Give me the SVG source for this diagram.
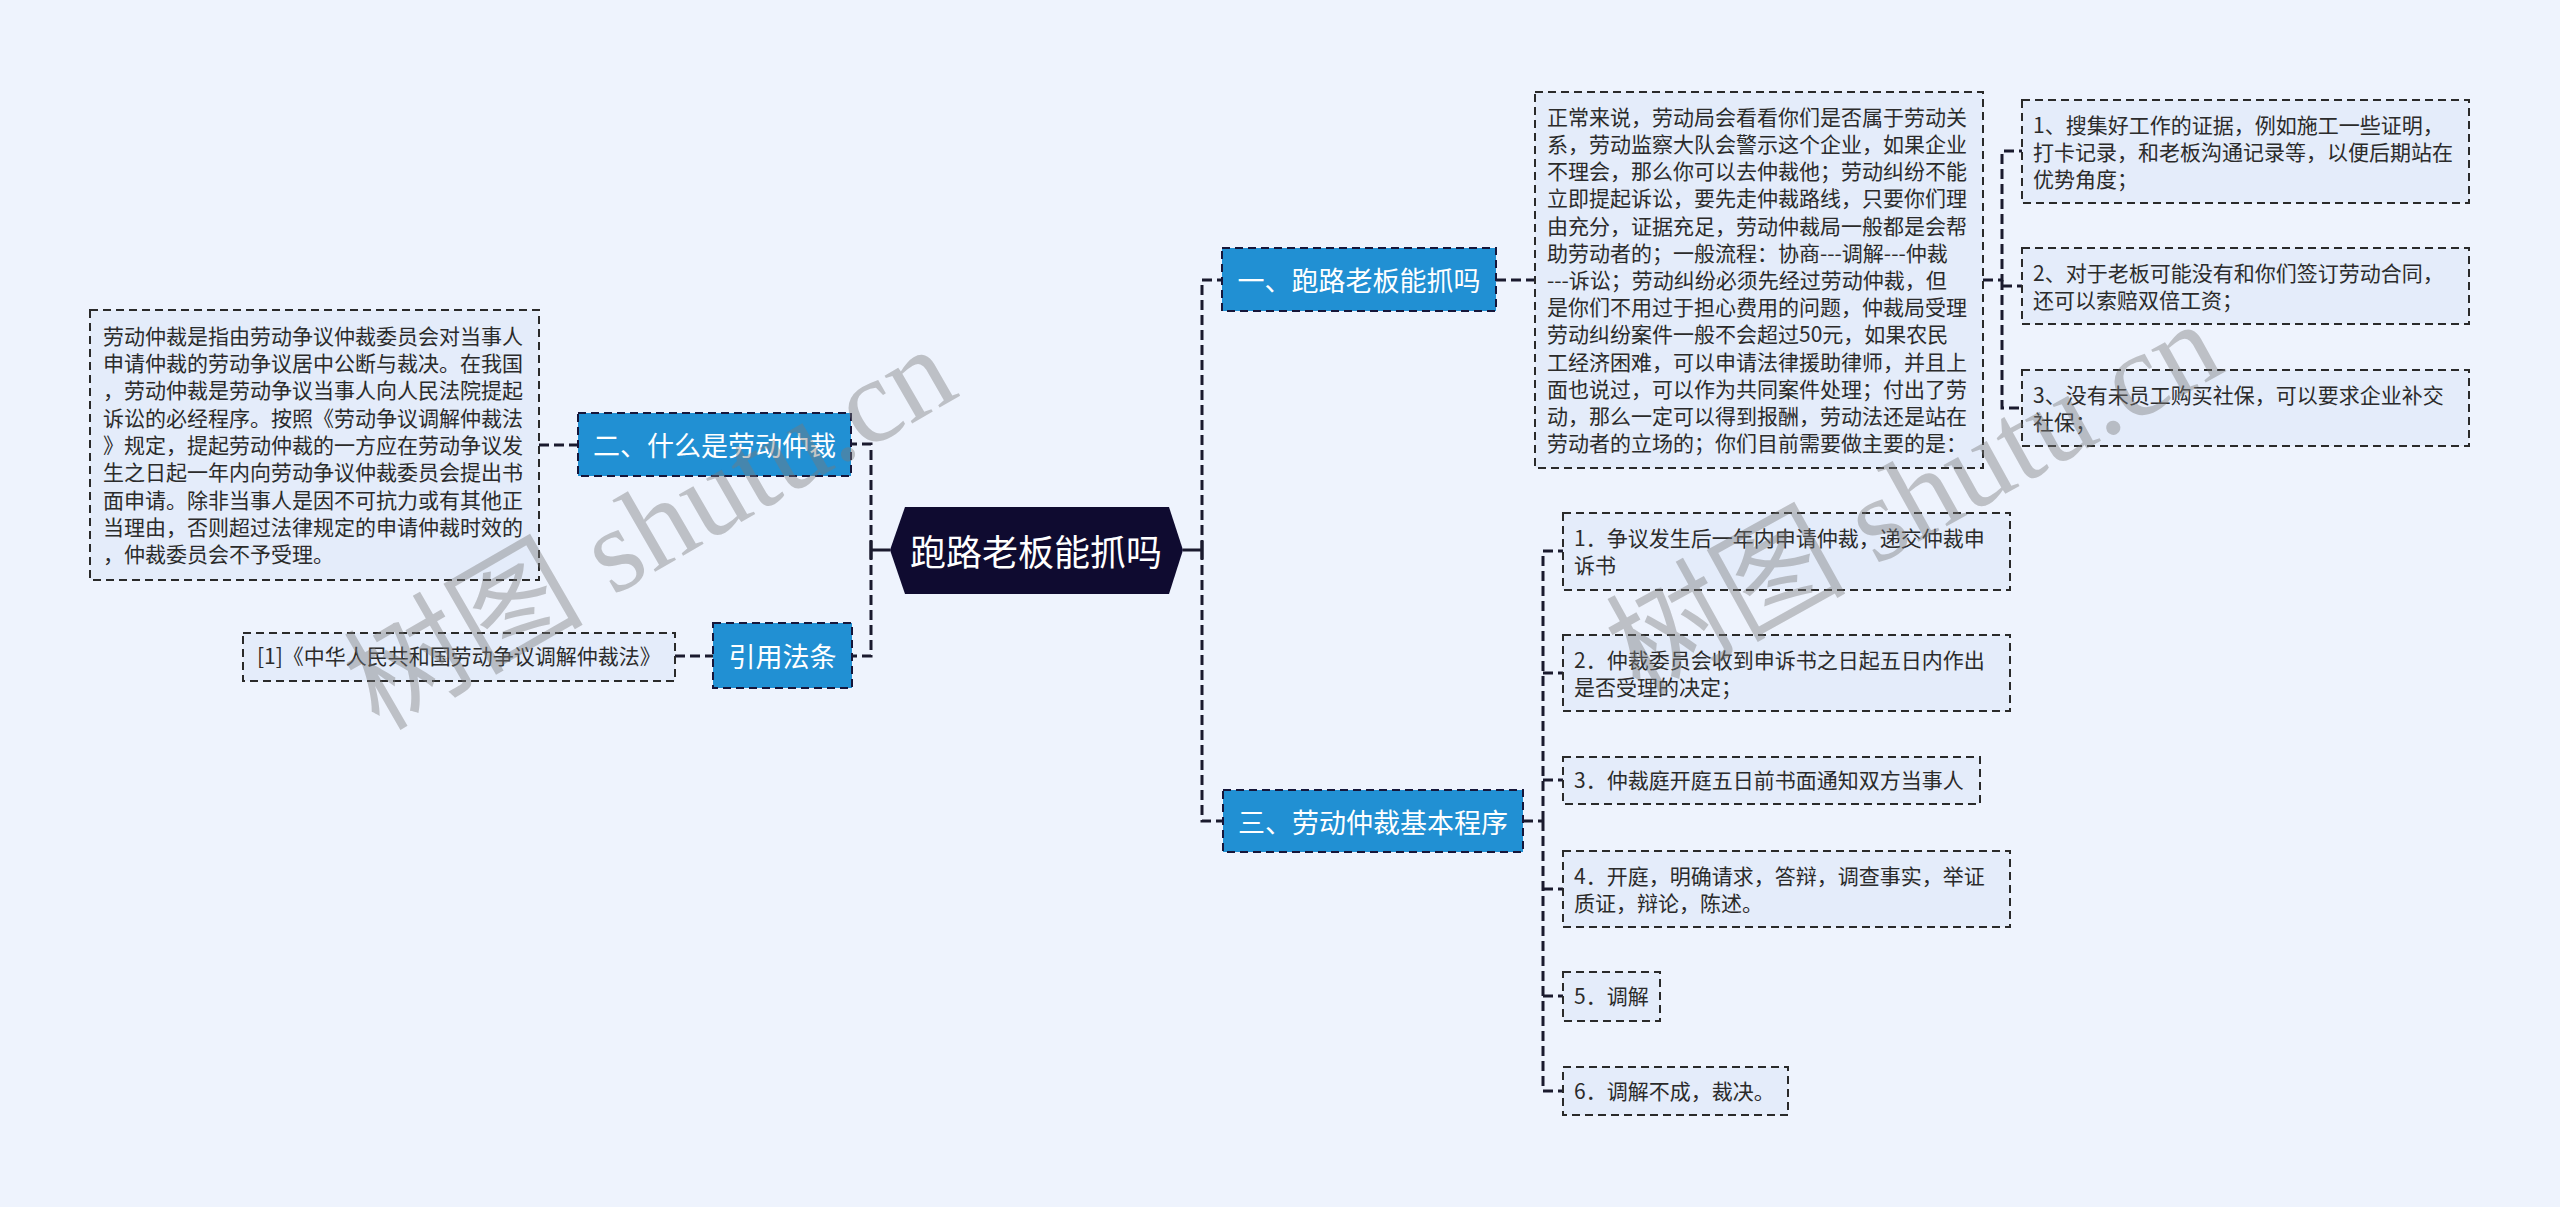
<svg xmlns="http://www.w3.org/2000/svg" width="2560" height="1207" viewBox="0 0 2560 1207">
<style>
.bg{fill:#eef3fd}
.tb{fill:#e4ecfa;stroke:#2a2a2a;stroke-width:2;stroke-dasharray:8 5}
.bb{fill:#2190d3;stroke:#16163a;stroke-width:2;stroke-dasharray:8 5}
.t{font-family:'Noto Sans CJK SC','Noto Sans',sans-serif;font-size:21px;fill:#2b2b2b}
.bt{font-family:'Noto Sans CJK SC','Noto Sans',sans-serif;font-size:27px;fill:#ffffff;text-anchor:middle;dominant-baseline:central}
.rt{font-family:'Noto Sans CJK SC','Noto Sans',sans-serif;font-size:36px;fill:#ffffff;text-anchor:middle;dominant-baseline:central}
.c{fill:none;stroke:#1a1a2e;stroke-width:3;stroke-dasharray:10 5}
.s{fill:none;stroke:#1a1a2e;stroke-width:3}
.wm{font-family:'Liberation Serif','Noto Sans CJK SC',serif;font-size:120px;fill:#7a7a7a;fill-opacity:0.42;text-anchor:middle;dominant-baseline:central}
</style>
<rect class="bg" x="0" y="0" width="2560" height="1207"/>

<g id="connectors">
  <path class="s" d="M890,550 H871 M871,541 V559"/>
  <path class="c" d="M871,550 V444 H851"/>
  <path class="c" d="M871,550 V656 H852"/>
  <path class="s" d="M1183,550 H1202 M1202,541 V559"/>
  <path class="c" d="M1202,550 V280 H1222"/>
  <path class="c" d="M1202,550 V821 H1223"/>
  <path class="c" d="M539,445 H578"/>
  <path class="c" d="M675,656 H713"/>
  <path class="c" d="M1496,280 H1535"/>
  <path class="c" d="M1983,280 H2002 V151 H2022"/>
  <path class="c" d="M2002,280 V408 H2022"/>
  <path class="c" d="M2002,286 H2022"/>
  <path class="c" d="M1523,821 H1543"/>
  <path class="c" d="M1543,821 V551 H1563"/>
  <path class="c" d="M1543,821 V1091 H1563"/>
  <path class="c" d="M1543,673 H1563 M1543,780 H1563 M1543,889 H1563 M1543,996 H1563"/>
</g>

<g id="root">
  <polygon points="890,550 905,507 1169,507 1183,550 1169,594 905,594" fill="#0f0b30"/>
  <text class="rt" x="1036" y="550">跑路老板能抓吗</text>
</g>

<g id="n1">
  <rect class="bb" x="1222" y="248" width="274" height="63"/>
  <text class="bt" x="1359" y="279.5">一、跑路老板能抓吗</text>
</g>
<g id="n1-text">
  <rect class="tb" x="1535" y="92" width="448" height="376"/>
  <text class="t" x="1547">
    <tspan x="1547" y="124.8">正常来说，劳动局会看看你们是否属于劳动关</tspan>
    <tspan x="1547" y="152">系，劳动监察大队会警示这个企业，如果企业</tspan>
    <tspan x="1547" y="179.2">不理会，那么你可以去仲裁他；劳动纠纷不能</tspan>
    <tspan x="1547" y="206.4">立即提起诉讼，要先走仲裁路线，只要你们理</tspan>
    <tspan x="1547" y="233.6">由充分，证据充足，劳动仲裁局一般都是会帮</tspan>
    <tspan x="1547" y="260.8">助劳动者的；一般流程：协商---调解---仲裁</tspan>
    <tspan x="1547" y="288">---诉讼；劳动纠纷必须先经过劳动仲裁，但</tspan>
    <tspan x="1547" y="315.2">是你们不用过于担心费用的问题，仲裁局受理</tspan>
    <tspan x="1547" y="342.4">劳动纠纷案件一般不会超过50元，如果农民</tspan>
    <tspan x="1547" y="369.6">工经济困难，可以申请法律援助律师，并且上</tspan>
    <tspan x="1547" y="396.8">面也说过，可以作为共同案件处理；付出了劳</tspan>
    <tspan x="1547" y="424">动，那么一定可以得到报酬，劳动法还是站在</tspan>
    <tspan x="1547" y="451.2">劳动者的立场的；你们目前需要做主要的是：</tspan>
  </text>
</g>
<g id="n1-1">
  <rect class="tb" x="2022" y="100" width="447" height="103"/>
  <text class="t"><tspan x="2033" y="132.5">1、搜集好工作的证据，例如施工一些证明，</tspan><tspan x="2033" y="159.5">打卡记录，和老板沟通记录等，以便后期站在</tspan><tspan x="2033" y="186.5">优势角度；</tspan></text>
</g>
<g id="n1-2">
  <rect class="tb" x="2022" y="248" width="447" height="76"/>
  <text class="t"><tspan x="2033" y="280.5">2、对于老板可能没有和你们签订劳动合同，</tspan><tspan x="2033" y="307.5">还可以索赔双倍工资；</tspan></text>
</g>
<g id="n1-3">
  <rect class="tb" x="2022" y="370" width="447" height="76"/>
  <text class="t"><tspan x="2033" y="402.5">3、没有未员工购买社保，可以要求企业补交</tspan><tspan x="2033" y="429.5">社保；</tspan></text>
</g>

<g id="n3">
  <rect class="bb" x="1223" y="790" width="300" height="62"/>
  <text class="bt" x="1373" y="821">三、劳动仲裁基本程序</text>
</g>
<g id="n3-1">
  <rect class="tb" x="1563" y="513" width="447" height="77"/>
  <text class="t"><tspan x="1574" y="546">1．争议发生后一年内申请仲裁，递交仲裁申</tspan><tspan x="1574" y="573">诉书</tspan></text>
</g>
<g id="n3-2">
  <rect class="tb" x="1563" y="635" width="447" height="76"/>
  <text class="t"><tspan x="1574" y="667.5">2．仲裁委员会收到申诉书之日起五日内作出</tspan><tspan x="1574" y="694.5">是否受理的决定；</tspan></text>
</g>
<g id="n3-3">
  <rect class="tb" x="1563" y="757" width="417" height="47"/>
  <text class="t" x="1574" y="788">3．仲裁庭开庭五日前书面通知双方当事人</text>
</g>
<g id="n3-4">
  <rect class="tb" x="1563" y="851" width="447" height="76"/>
  <text class="t"><tspan x="1574" y="883.5">4．开庭，明确请求，答辩，调查事实，举证</tspan><tspan x="1574" y="910.5">质证，辩论，陈述。</tspan></text>
</g>
<g id="n3-5">
  <rect class="tb" x="1563" y="972" width="97" height="49"/>
  <text class="t" x="1574" y="1004">5．调解</text>
</g>
<g id="n3-6">
  <rect class="tb" x="1563" y="1067" width="225" height="48"/>
  <text class="t" x="1574" y="1099">6．调解不成，裁决。</text>
</g>

<g id="n2">
  <rect class="bb" x="578" y="413" width="273" height="63"/>
  <text class="bt" x="714.5" y="444.5">二、什么是劳动仲裁</text>
</g>
<g id="n2-text">
  <rect class="tb" x="90" y="310" width="449" height="270"/>
  <text class="t">
    <tspan x="103" y="343.8">劳动仲裁是指由劳动争议仲裁委员会对当事人</tspan>
    <tspan x="103" y="371.1">申请仲裁的劳动争议居中公断与裁决。在我国</tspan>
    <tspan x="103" y="398.4">，劳动仲裁是劳动争议当事人向人民法院提起</tspan>
    <tspan x="103" y="425.7">诉讼的必经程序。按照《劳动争议调解仲裁法</tspan>
    <tspan x="103" y="453">》规定，提起劳动仲裁的一方应在劳动争议发</tspan>
    <tspan x="103" y="480.3">生之日起一年内向劳动争议仲裁委员会提出书</tspan>
    <tspan x="103" y="507.6">面申请。除非当事人是因不可抗力或有其他正</tspan>
    <tspan x="103" y="534.9">当理由，否则超过法律规定的申请仲裁时效的</tspan>
    <tspan x="103" y="562.2">，仲裁委员会不予受理。</tspan>
  </text>
</g>

<g id="n4">
  <rect class="bb" x="713" y="623" width="139" height="65"/>
  <text class="bt" x="782.5" y="655.5">引用法条</text>
</g>
<g id="n4-1">
  <rect class="tb" x="243" y="633" width="432" height="48"/>
  <text class="t" x="257" y="664">[1]《中华人民共和国劳动争议调解仲裁法》</text>
</g>

<g id="watermarks">
  <text class="wm" transform="translate(650,528) rotate(-30)">树图 shutu.cn</text>
  <text class="wm" transform="translate(1914,498) rotate(-29)">树图 shutu.cn</text>
</g>
</svg>
